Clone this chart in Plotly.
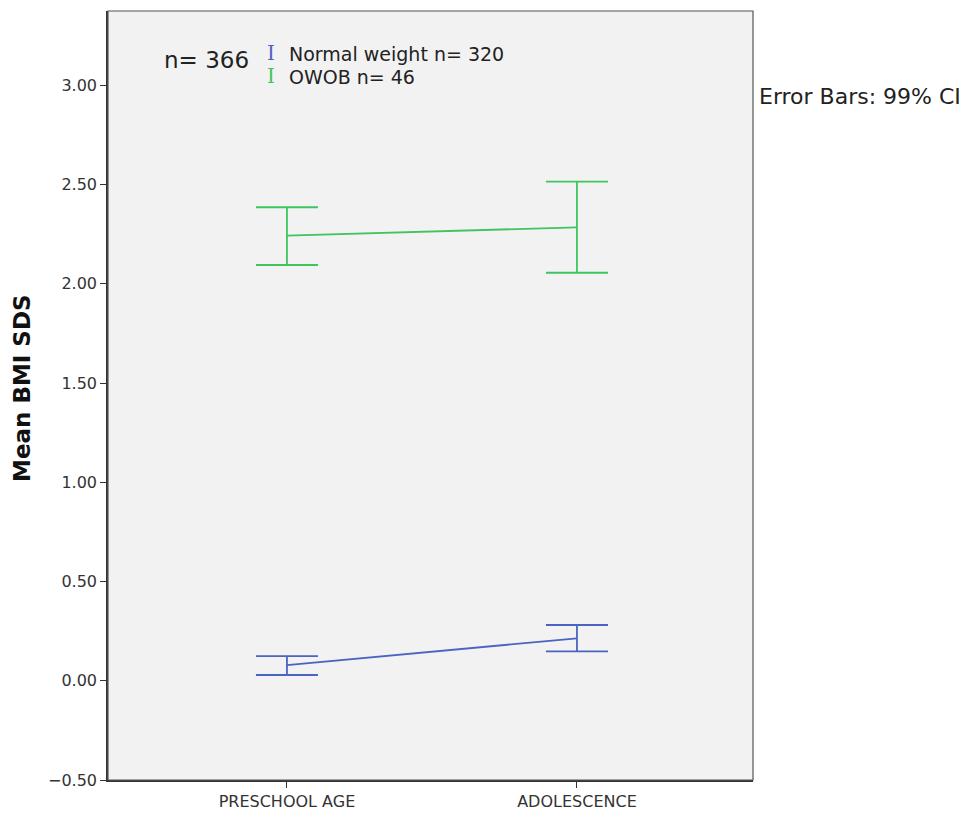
import plotly.graph_objects as go

categories = ["PRESCHOOL AGE", "ADOLESCENCE"]

normal_mean = [0.079, 0.214]
normal_upper = [0.124, 0.281]
normal_lower = [0.029, 0.148]

owob_mean = [2.243, 2.285]
owob_upper = [2.386, 2.515]
owob_lower = [2.095, 2.056]

y_ticks = [-0.5, 0.0, 0.5, 1.0, 1.5, 2.0, 2.5, 3.0]
y_ticklabels = ["−0.50", "0.00", "0.50", "1.00", "1.50", "2.00", "2.50", "3.00"]

BLUE = "#4a64c2"
GREEN = "#3fc45e"
FONT = "DejaVu Sans"

fig = go.Figure()

def add_series(mean, upper, lower, color, name):
    fig.add_trace(go.Scatter(
        x=[0, 1], y=mean, mode="lines", name=name,
        line=dict(color=color, width=1.8),
        error_y=dict(type="data", symmetric=False,
                     array=[u - m for u, m in zip(upper, mean)],
                     arrayminus=[m - l for l, m in zip(lower, mean)],
                     color=color, thickness=1.8, width=31),
        showlegend=False,
    ))

add_series(owob_mean, owob_upper, owob_lower, GREEN, "OWOB n= 46")
add_series(normal_mean, normal_upper, normal_lower, BLUE, "Normal weight n= 320")

fig.update_xaxes(
    range=[-0.617, 1.607], tickvals=[0, 1], ticktext=categories,
    showgrid=False, zeroline=False, showline=True, linecolor="#333333", linewidth=1.5,
    ticks="outside", ticklen=6, tickcolor="#333333", tickwidth=1.2,
    tickfont=dict(family=FONT, size=16, color="#333333"), mirror=False,
)
fig.update_yaxes(
    range=[-0.5, 3.375], tickvals=y_ticks, ticktext=y_ticklabels,
    showgrid=False, zeroline=False, showline=True, linecolor="#333333", linewidth=1.5,
    ticks="outside", ticklen=6, tickcolor="#333333", tickwidth=1.2,
    tickfont=dict(family=FONT, size=16, color="#333333"),
)

# plot-area border (top and right)
fig.add_shape(type="rect", xref="paper", yref="paper", x0=0, y0=0, x1=1, y1=1,
              line=dict(color="#555555", width=1.2), fillcolor="rgba(0,0,0,0)", layer="above")

# screen coordinates (page has an 8px body margin)
OFF = 8
L, R, T, B = 108, 753, 11, 780
annots = [
    dict(text="n= 366", x=162, y=60, size=23, color="#222222"),
    dict(text="Normal weight n= 320", x=287, y=54, size=19, color="#222222"),
    dict(text="OWOB n= 46", x=287, y=77, size=19, color="#222222"),
    dict(text="I", x=265, y=53, size=20, color=BLUE, family="DejaVu Serif"),
    dict(text="I", x=265, y=76, size=20, color=GREEN, family="DejaVu Serif"),
    dict(text="Error Bars: 99% CI", x=757, y=97, size=22, color="#222222"),
]
for a in annots:
    fig.add_annotation(
        text=a["text"], xref="paper", yref="paper",
        x=(a["x"] - L) / (R - L), y=(B - a["y"]) / (B - T),
        xanchor="left", yanchor="middle", showarrow=False,
        font=dict(family=a.get("family", FONT), size=a["size"], color=a["color"]),
    )
fig.add_annotation(
    text="<b>Mean BMI SDS</b>", xref="paper", yref="paper",
    x=(22 - L) / (R - L), y=(B - 388) / (B - T), textangle=-90,
    xanchor="center", yanchor="middle", showarrow=False,
    font=dict(family=FONT, size=23, color="#111111"),
)

W, H = 971 - OFF, 814 - OFF
fig.update_layout(
    width=W, height=H,
    margin=dict(l=L - OFF, r=971 - R, t=T - OFF, b=814 - B),
    plot_bgcolor="#f2f2f2", paper_bgcolor="white",
    font=dict(family=FONT),
)

fig.write_html("out.html")
